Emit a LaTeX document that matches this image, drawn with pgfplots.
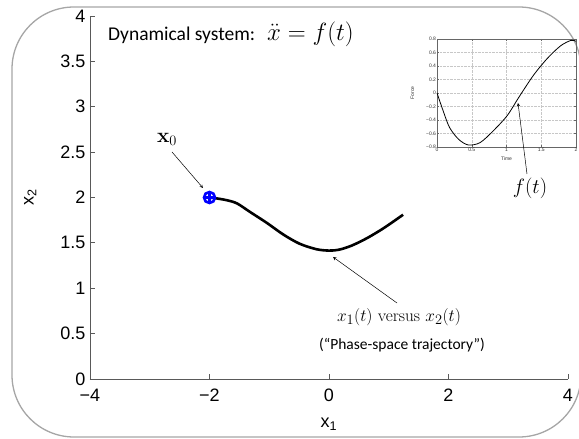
\documentclass[border=0pt]{standalone}
\usepackage[no-math]{fontspec}
\setmainfont{Liberation Sans}
\newfontfamily\calfont{Carlito}
\usepackage{pgfplots}
\pgfplotsset{compat=1.18}
\begin{document}
\begin{tikzpicture}
\useasboundingbox (-90pt,-60pt) rectangle (489pt,379pt);
% rounded frame
\draw[black!35, line width=1.3pt, rounded corners=62pt] (-78pt,-58pt) rectangle (491pt,372pt);
\begin{axis}[
  at={(0pt,0pt)}, anchor=south west,
  scale only axis, width=478pt, height=363pt,
  xmin=-4, xmax=4, ymin=0, ymax=4,
  axis x line*=bottom, axis y line*=left,
  axis line style={color=black!65, line width=0.8pt},
  tick align=inside, major tick length=5pt,
  tick style={color=black!65, line width=0.8pt},
  xtick={-4,-2,0,2,4}, xticklabels={−4,−2,0,2,4},
  ytick={0,0.5,1,1.5,2,2.5,3,3.5,4},
  yticklabels={0,0.5,1,1.5,2,2.5,3,3.5,4},
  tick label style={font=\fontsize{18}{21}\selectfont, text=black},
  xticklabel style={anchor=center, yshift=-16pt},
  yticklabel style={xshift=-1pt},
  xlabel={x\textsubscript{1}}, ylabel={x\textsubscript{2}},
  label style={font=\fontsize{18}{21}\selectfont},
  xlabel style={at={(axis description cs:0.5,-0.125)}, anchor=center},
  ylabel style={at={(axis description cs:-0.125,0.5)}, anchor=center},
  clip=false,
]
\addplot[black, line width=2.6pt, smooth, tension=0.5] coordinates {
(-2.00,2.00) (-1.88,1.99) (-1.71,1.97) (-1.54,1.935) (-1.32,1.84) (-1.04,1.72)
(-0.76,1.59) (-0.49,1.49) (-0.21,1.43) (0.0,1.415) (0.17,1.425) (0.38,1.47) (0.63,1.55)
(0.91,1.66) (1.24,1.81)
};
\addplot[only marks, blue, mark=oplus, mark size=5.5pt, line width=2.6pt] coordinates {(-2,2)};
\end{axis}
% inset
\begin{axis}[
  at={(347pt,232pt)}, anchor=south west,
  scale only axis, width=139pt, height=108pt,
  xmin=0, xmax=2, ymin=-0.8, ymax=0.8,
  xtick={0,0.5,1,1.5,2}, ytick={-0.8,-0.6,-0.4,-0.2,0,0.2,0.4,0.6,0.8},
  xticklabels={0,0.5,1,1.5,2},
  yticklabels={−0.8,−0.6,−0.4,−0.2,0,0.2,0.4,0.6,0.8},
  grid=major, grid style={densely dotted, black!22, line width=0.4pt},
  axis line style={black!60, line width=0.5pt},
  tick align=inside, major tick length=2pt,
  tick style={black!60, line width=0.4pt},
  tick label style={font=\fontsize{5}{6}\selectfont, text=black!80, inner sep=0.8pt},
  xlabel={Time}, ylabel={Force},
  label style={font=\fontsize{5}{6}\selectfont, text=black!80, inner sep=0.5pt},
  xlabel style={at={(axis description cs:0.5,-0.085)}, anchor=north},
  ylabel style={at={(axis description cs:-0.16,0.5)}, anchor=south},
  clip=false,
]
\addplot[black, line width=0.8pt, smooth] coordinates {
(0,0) (0.087,-0.26) (0.18,-0.51) (0.31,-0.685) (0.45,-0.77) (0.62,-0.735)
(0.81,-0.56) (1.01,-0.335) (1.18,-0.06) (1.39,0.265) (1.59,0.515)
(1.78,0.70) (1.93,0.78) (2.0,0.765)
};
\end{axis}
% annotations
\node[anchor=base west, inner sep=0pt] at (18pt,338pt) {{\calfont\fontsize{19.5}{23}\selectfont Dynamical system:}\hspace{12pt}{\fontsize{23}{27}\selectfont $\ddot{x} = f(t)$}};
\node[font=\fontsize{20}{24}\selectfont, inner sep=0pt] at (77pt,240pt) {$\mathbf{x}_0$};
\draw[-stealth, line width=0.5pt] (82pt,227pt) -- (113pt,191pt);
\node[font=\fontsize{21}{25}\selectfont, inner sep=0pt] at (440pt,191pt) {$f(t)$};
\draw[-stealth, line width=0.5pt] (437pt,205pt) -- (428pt,276pt);
\node[font=\fontsize{19}{23}\selectfont, inner sep=0pt] at (309pt,62pt) {$x_1(t)\ \mathrm{versus}\ x_2(t)$};
\draw[-stealth, line width=0.5pt] (307pt,76pt) -- (243pt,122pt);
\node[font=\calfont\fontsize{15.5}{18}\selectfont, inner sep=0pt] at (312pt,34pt) {(“Phase-space trajectory”)};
\end{tikzpicture}
\end{document}
